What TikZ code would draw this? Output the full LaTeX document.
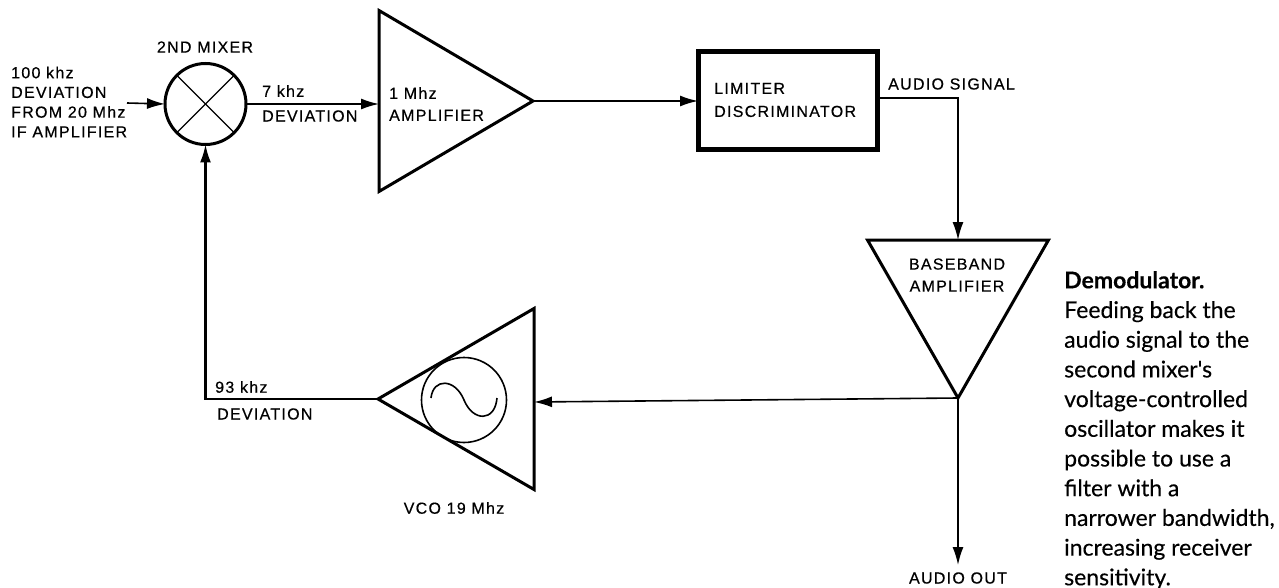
\documentclass[tikz,border=0pt]{standalone}
\usepackage{fontspec}
\setmainfont{Liberation Sans}
\newfontfamily\notefont[FakeBold=0.3]{Lato}
\newfontfamily\tagfont[LetterSpace=8,FakeBold=0.5]{Liberation Sans}
\usetikzlibrary{shapes.geometric, arrows.meta, positioning}

\tikzset{
    wire/.style={line width=1.6pt, line join=miter},
    arrowwire/.style={wire, -{Latex[length=18pt,width=11pt]}},
    amp/.style={isosceles triangle, isosceles triangle stretches, draw, line width=3pt, inner sep=0pt, outer sep=0pt},
    tag/.style={inner sep=0pt, anchor=west, align=left, font=\tagfont\fontsize{16}{19.7}\selectfont},
    note/.style={inner sep=0pt, anchor=north west, align=left, font=\notefont\fontsize{23}{29.7}\selectfont}
}

\begin{document}
\begin{tikzpicture}[x=1pt, y=-1pt]
    \useasboundingbox (0,0) rectangle (1279,588);

    \node [circle, draw, line width=3pt, minimum size=81pt, inner sep=0pt, outer sep=0pt] (mixer) at (205.5,104) {};
    \node [amp, shape border rotate=0, minimum width=181pt, minimum height=154pt, anchor=apex] (ampif) at (533,101) {};
    \node [rectangle, draw, line width=5pt, minimum width=179pt, minimum height=98pt, inner sep=0pt, outer sep=0pt] (limiter) at (787.5,101) {};
    \node [amp, shape border rotate=270, minimum width=181pt, minimum height=158pt, anchor=apex] (baseband) at (958,398) {};
    \node [amp, shape border rotate=180, minimum width=181pt, minimum height=156pt, anchor=apex] (vco) at (378,399) {};
    \node [circle, draw, line width=1.6pt, minimum size=85pt, inner sep=0pt] (osc) at (464,400) {};

    \draw [line width=1.4pt] (mixer.45) -- (mixer.225);
    \draw [line width=1.4pt] (mixer.135) -- (mixer.315);
    \draw [line width=1.6pt] (431,398) .. controls (433,378) and (455,378) .. (464,400) .. controls (473,422) and (495,422) .. (497,398);

    \node [tag] (inlabel) at (11,102) {100 khz\\DEVIATION\\FROM 20 Mhz\\IF AMPLIFIER};
    \node [tag, anchor=center] (mixerlabel) at (205,47) {2ND MIXER};
    \node [tag] (seven) at (262,91) {7 khz};
    \node [tag] (sevendev) at (262,116) {DEVIATION};
    \node [tag, font=\tagfont\fontsize{16}{22}\selectfont] (ampiflabel) at (389,104) {1 Mhz\\AMPLIFIER};
    \node [tag, font=\tagfont\fontsize{16}{23}\selectfont] (limiterlabel) at (714,100) {LIMITER\\DISCRIMINATOR};
    \node [tag] (audiosig) at (888,84) {AUDIO SIGNAL};
    \node [tag, align=center, anchor=center, font=\tagfont\fontsize{16}{22}\selectfont] (basebandlabel) at (957,275) {BASEBAND\\AMPLIFIER};
    \node [tag] (ninetythree) at (215,387) {93 khz};
    \node [tag] (ninetythreedev) at (217,414) {DEVIATION};
    \node [tag, anchor=center] (vcolabel) at (454,508) {VCO 19 Mhz};
    \node [tag, anchor=center] (audioout) at (958,578) {AUDIO OUT};
    \node [note] (caption) at (1064,271) {\textbf{Demodulator.}\\Feeding back the\\audio signal to the\\second mixer's\\voltage-controlled\\oscillator makes it\\possible to use a\\filter with a\\narrower bandwidth,\\increasing receiver\\sensitivity.};

    \coordinate (infree) at (127,103);
    \coordinate (fbcorner) at (mixer.south |- vco.apex);
    \coordinate (limcorner) at (958,98);
    \coordinate (audioend) at (958,565);

    \draw [arrowwire] (infree) -- (mixer.west);
    \draw [arrowwire] (mixer.east) -- (ampif.west |- mixer.east);
    \draw [arrowwire] (ampif.apex) -- (limiter.west |- ampif.apex);
    \draw [arrowwire] (limiter.east |- limcorner) -- (limcorner) -- (baseband.north -| limcorner);
    \draw [arrowwire] (baseband.apex) -- (vco.east |- 0,402);
    \draw [arrowwire] (baseband.apex) -- (audioend);
    \draw [arrowwire, line width=2.2pt] (vco.apex) -- (fbcorner) -- (mixer.south);
\end{tikzpicture}
\end{document}
